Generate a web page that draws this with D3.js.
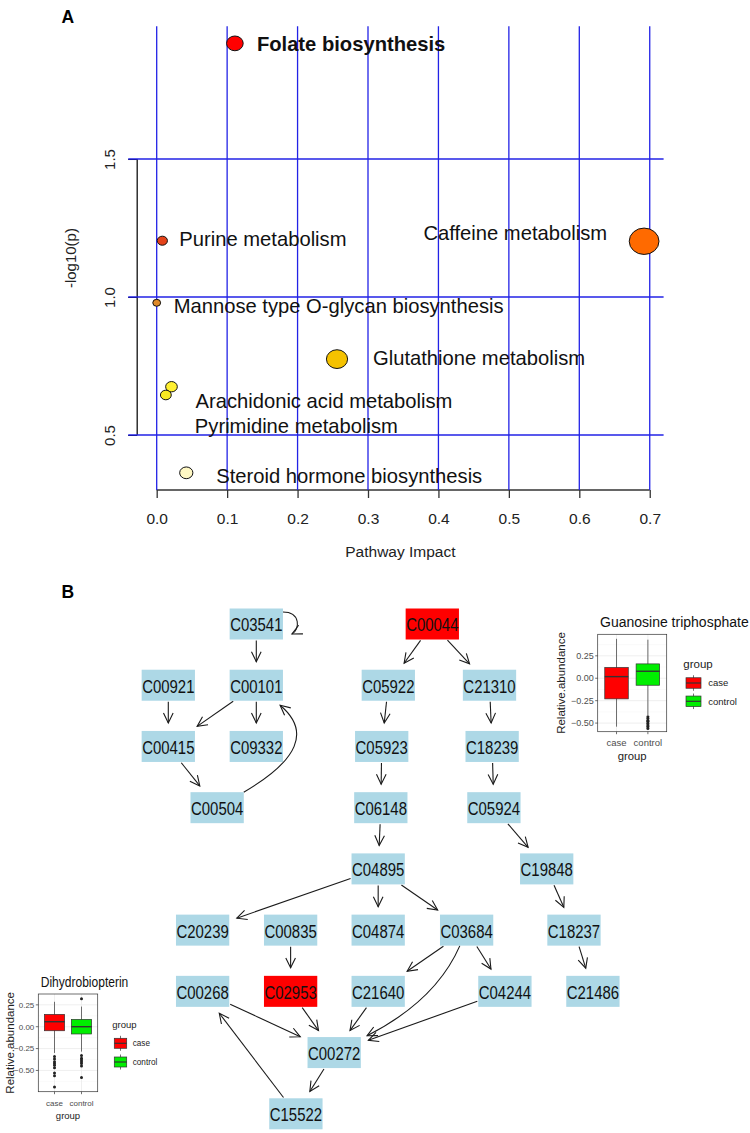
<!DOCTYPE html>
<html lang="en">
<head>
<meta charset="UTF-8">
<title>Pathway analysis</title>
<script src="https://d3js.org/d3.v7.min.js"></script>
<style>
  body { margin: 0; background: #fff; }
  svg { display: block; font-family: "Liberation Sans", Arial, sans-serif; }
</style>
</head>
<body>
<svg id="chart" width="750" height="1133"></svg>
<script>
// ---------- panel A: pathway impact vs -log10(p) ----------
const pathways = ["Folate biosynthesis", "Purine metabolism", "Caffeine metabolism",
  "Mannose type O-glycan biosynthesis", "Glutathione metabolism",
  "Arachidonic acid metabolism", "Pyrimidine metabolism", "Steroid hormone biosynthesis"];
const impact = [0.111, 0.008, 0.692, 0.0, 0.256, 0.021, 0.013, 0.042];
const logP = [1.919, 1.204, 1.202, 0.979, 0.775, 0.675, 0.645, 0.363];
const xTicks = [0, 0.1, 0.2, 0.3, 0.4, 0.5, 0.6, 0.7];
const yTicks = [0.5, 1.0, 1.5];

// ---------- panel B: compound network ----------
const compounds = ["C03541", "C00044",
  "C00921", "C00101", "C05922", "C21310",
  "C00415", "C09332", "C05923", "C18239",
  "C00504", "C06148", "C05924",
  "C04895", "C19848",
  "C20239", "C00835", "C04874", "C03684", "C18237",
  "C00268", "C02953", "C21640", "C04244", "C21486",
  "C00272", "C15522"];
// layer (row) and horizontal slot of each compound in the layout
const nodeRank = [0, 0, 1, 1, 1, 1, 2, 2, 2, 2, 3, 3, 3, 4, 4, 5, 5, 5, 5, 5, 6, 6, 6, 6, 6, 7, 8];
const nodeSlot = [2, 6, 0, 2, 5, 7.3, 0, 2, 4.85, 7.36, 1.11, 4.83, 7.4, 4.77, 8.6,
  0.78, 2.78, 4.77, 6.78, 9.22, 0.78, 2.78, 4.77, 7.65, 9.65, 3.77, 2.9];
const highlighted = ["C00044", "C02953"];
const edges = [
  ["C03541", "C03541"], ["C03541", "C00101"], ["C00921", "C00415"], ["C00101", "C00415"],
  ["C00101", "C09332"], ["C00415", "C00504"], ["C00504", "C00101"],
  ["C00044", "C05922"], ["C00044", "C21310"], ["C05922", "C05923"], ["C05923", "C06148"],
  ["C06148", "C04895"], ["C21310", "C18239"], ["C18239", "C05924"], ["C05924", "C19848"],
  ["C19848", "C18237"], ["C18237", "C21486"], ["C04895", "C20239"], ["C04895", "C04874"],
  ["C04895", "C03684"], ["C00835", "C02953"], ["C03684", "C21640"], ["C03684", "C04244"],
  ["C03684", "C00272"], ["C00268", "C00272"], ["C02953", "C00272"], ["C21640", "C00272"],
  ["C04244", "C00272"], ["C00272", "C15522"], ["C15522", "C00268"]];

// ---------- boxplot insets ----------
const groups = ["case", "control"];
const boxTicks = [-0.5, -0.25, 0, 0.25];
// [lower whisker, Q1, median, Q3, upper whisker]
const gtpStats = [[-0.54, -0.23, 0.018, 0.12, 0.44], [-0.41, -0.078, 0.078, 0.16, 0.43]];
const gtpOutliers = [[], [-0.43, -0.45, -0.47, -0.48, -0.50, -0.51, -0.53, -0.54, -0.56]];
const dhbStats = [[-0.30, -0.046, 0.057, 0.141, 0.285], [-0.285, -0.083, 0.0, 0.084, 0.23]];
const dhbOutliers = [[-0.34, -0.37, -0.40, -0.42, -0.44, -0.47, -0.53, -0.56, -0.69],
  [0.32, -0.33, -0.36, -0.38, -0.40, -0.42, -0.45, -0.58]];

// styles
const pointColors = ["#FF0000", "#E4421A", "#FF6A00", "#DF8A2A", "#F5C200", "#FFF030", "#F6E822", "#FFF8C4"];
const labelNudge = [[22, 7.5, "start"], [17, 5.5, "start"], [-37, -1, "end"], [17, 10, "start"],
  [36, 6, "start"], [24, 21.5, "start"], [29, 37.7, "start"], [30, 10.5, "start"]];
const groupColors = ["#FF0000", "#00EE00"];

const svg = d3.select("#chart");

// ================= A =================
const gA = svg.append("g");
gA.append("text").attr("x", 61.5).attr("y", 22.7)
  .attr("font-size", 17.5).attr("font-weight", "bold").text("A");

const xPad = (d3.max(impact) - d3.min(impact)) * 0.04;
const yPad = (d3.max(logP) - d3.min(logP)) * 0.04;
const x = d3.scaleLinear().domain([d3.min(impact) - xPad, d3.max(impact) + xPad]).range([137.2, 663.6]);
const y = d3.scaleLinear().domain([d3.min(logP) - yPad, d3.max(logP) + yPad]).range([490, 26.2]);
const r = d3.scaleSqrt().domain([0, 0.7]).range([3.7, 14.1]);

// x axis
const xAxis = gA.append("g").attr("transform", `translate(0,${y.range()[0]})`)
  .call(d3.axisBottom(x).tickValues(xTicks).tickSize(8).tickSizeOuter(0).tickFormat(d3.format(".1f")));
xAxis.select(".domain").remove();
xAxis.append("line").attr("x1", x(xTicks[0])).attr("x2", x(xTicks[xTicks.length - 1]))
  .attr("stroke", "#333").attr("stroke-width", 1.3);
xAxis.selectAll(".tick line").attr("stroke", "#333").attr("stroke-width", 1.3);
xAxis.selectAll("text").attr("y", 33.5).attr("dy", null)
  .attr("font-size", 15.5).attr("fill", "#222").attr("font-family", "Liberation Sans");

// y axis
const yAxis = gA.append("g").attr("transform", `translate(${x.range()[0]},0)`)
  .call(d3.axisLeft(y).tickValues(yTicks).tickSize(9).tickSizeOuter(0).tickFormat(d3.format(".1f")));
yAxis.select(".domain").remove();
yAxis.append("line").attr("y1", y(yTicks[0])).attr("y2", y(yTicks[yTicks.length - 1]))
  .attr("stroke", "#111").attr("stroke-width", 1.3);
yAxis.selectAll("text").attr("x", null).attr("dy", null)
  .attr("text-anchor", "middle").attr("transform", "translate(-22.5,0) rotate(-90)")
  .attr("font-size", 15).attr("fill", "#222").attr("font-family", "Liberation Sans");

gA.append("text").attr("x", (x.range()[0] + x.range()[1]) / 2).attr("y", 557.3)
  .attr("text-anchor", "middle").attr("font-size", 15.5).attr("fill", "#222").text("Pathway Impact");
gA.append("text").attr("transform", `translate(76,${(y.range()[0] + y.range()[1]) / 2}) rotate(-90)`)
  .attr("text-anchor", "middle").attr("font-size", 15).attr("fill", "#222").text("-log10(p)");

// blue grid
gA.append("g").selectAll("line").data(xTicks).join("line")
  .attr("x1", d => x(d)).attr("x2", d => x(d))
  .attr("y1", y.range()[1]).attr("y2", y.range()[0])
  .attr("stroke", "#2222E6").attr("stroke-width", 1.3);
gA.append("g").selectAll("line").data(yTicks).join("line")
  .attr("x1", x.range()[0] - 9).attr("x2", x.range()[1])
  .attr("y1", d => y(d)).attr("y2", d => y(d))
  .attr("stroke", "#2222E6").attr("stroke-width", 1.3);

// points
const pts = pathways.map((p, i) => ({ name: p, ix: impact[i], lp: logP[i], i }));
gA.append("g").selectAll("ellipse").data(pts).join("ellipse")
  .attr("cx", d => x(d.ix)).attr("cy", d => y(d.lp))
  .attr("rx", d => r(d.ix) * 1.06).attr("ry", d => r(d.ix) * 0.94)
  .attr("fill", d => pointColors[d.i]).attr("stroke", "#111").attr("stroke-width", 1);

gA.append("g").selectAll("text").data(pts).join("text")
  .attr("x", d => x(d.ix) + labelNudge[d.i][0])
  .attr("y", d => y(d.lp) + labelNudge[d.i][1])
  .attr("text-anchor", d => labelNudge[d.i][2])
  .attr("font-size", 20.2)
  .attr("font-weight", d => d.i === 0 ? "bold" : "normal")
  .attr("fill", "#111")
  .text(d => d.name);

// ================= B =================
const gB = svg.append("g");
gB.append("text").attr("x", 61.5).attr("y", 597.5)
  .attr("font-size", 17.5).attr("font-weight", "bold").text("B");

const xN = d3.scaleLinear().domain([0, 10]).range([168.3, 608.3]);
const yN = d3.scaleLinear().domain([0, 8]).range([624, 1113.8]);
const boxW = 53.3, boxH = 31;
const nodes = new Map(compounds.map((c, i) => [c, { id: c, cx: xN(nodeSlot[i]), cy: yN(nodeRank[i]) }]));

// curved edges: [bend perpendicular, shift along chord]
const curved = { "C00504>C00101": [84.6, 29.6], "C03684>C00272": [-31, -19.9] };

function clip(c, dir) {
  const tx = dir[0] ? (boxW / 2) / Math.abs(dir[0]) : Infinity;
  const ty = dir[1] ? (boxH / 2) / Math.abs(dir[1]) : Infinity;
  const t = Math.min(tx, ty);
  return [c[0] + dir[0] * t, c[1] + dir[1] * t];
}
function unit(v) { const l = Math.hypot(v[0], v[1]); return [v[0] / l, v[1] / l]; }
function arrowHead(tip, d) {
  const L = 11, a = 26 * Math.PI / 180;
  const rot = (v, t) => [v[0] * Math.cos(t) - v[1] * Math.sin(t), v[0] * Math.sin(t) + v[1] * Math.cos(t)];
  const p1 = rot(d, a), p2 = rot(d, -a);
  return `M${tip[0] - L * p1[0]},${tip[1] - L * p1[1]}L${tip[0]},${tip[1]}L${tip[0] - L * p2[0]},${tip[1] - L * p2[1]}`;
}

const edgeG = gB.append("g").attr("fill", "none").attr("stroke", "#1a1a1a").attr("stroke-width", 1.1);
edges.forEach(([s, t]) => {
  const S = nodes.get(s), T = nodes.get(t);
  const sc = [S.cx, S.cy], tc = [T.cx, T.cy];
  let path, tip, dir;
  if (s === t) {
    const rx = S.cx + boxW / 2;
    const p0 = [rx, S.cy - 12], c1 = [rx + 18, S.cy - 12], c2 = [rx + 17, S.cy + 6], p3 = [rx + 9, S.cy + 10];
    path = `M${p0}C${c1} ${c2} ${p3}`;
    tip = p3; dir = unit([p3[0] - c2[0], p3[1] - c2[1]]);
  } else if (curved[`${s}>${t}`]) {
    const [bend, skew] = curved[`${s}>${t}`];
    const u = unit([tc[0] - sc[0], tc[1] - sc[1]]);
    const p = [-u[1], u[0]];
    const mid = [(sc[0] + tc[0]) / 2, (sc[1] + tc[1]) / 2];
    const C = [mid[0] + p[0] * bend + u[0] * skew, mid[1] + p[1] * bend + u[1] * skew];
    const start = clip(sc, unit([C[0] - sc[0], C[1] - sc[1]]));
    const dEnd = unit([C[0] - tc[0], C[1] - tc[1]]);
    const e0 = clip(tc, dEnd);
    tip = [e0[0] + dEnd[0] * 7, e0[1] + dEnd[1] * 7];
    path = `M${start}Q${C} ${tip}`;
    dir = unit([tip[0] - C[0], tip[1] - C[1]]);
  } else {
    const u = unit([tc[0] - sc[0], tc[1] - sc[1]]);
    const s0 = clip(sc, u);
    const start = [s0[0] + u[0] * 1, s0[1] + u[1] * 1];
    const e0 = clip(tc, [-u[0], -u[1]]);
    tip = [e0[0] - u[0] * 8, e0[1] - u[1] * 8];
    path = `M${start}L${tip}`;
    dir = u;
  }
  edgeG.append("path").attr("d", path);
  edgeG.append("path").attr("d", arrowHead(tip, dir));
});

const nodeG = gB.append("g").selectAll("g").data([...nodes.values()]).join("g")
  .attr("transform", d => `translate(${d.cx},${d.cy})`);
nodeG.append("rect").attr("x", -boxW / 2).attr("y", -boxH / 2).attr("width", boxW).attr("height", boxH)
  .attr("fill", d => highlighted.includes(d.id) ? "#FF0000" : "#ADD8E6");
nodeG.append("text").attr("text-anchor", "middle").attr("y", 7.4)
  .attr("font-size", 18).attr("fill", "#111")
  .attr("textLength", boxW - 1).attr("lengthAdjust", "spacingAndGlyphs")
  .text(d => d.id);

// ================= boxplot insets =================
function inset(cfg) {
  const g = svg.append("g");
  const yb = d3.scaleLinear().domain(cfg.yDomain).range([cfg.y1, cfg.y0]);
  const xb = d3.scalePoint().domain(groups).range([cfg.x0, cfg.x1]).padding(0.6);
  const bw = xb.step() * 0.75;

  g.append("rect").attr("x", cfg.x0).attr("y", cfg.y0)
    .attr("width", cfg.x1 - cfg.x0).attr("height", cfg.y1 - cfg.y0).attr("fill", "#fff");
  // minor grid
  const minor = boxTicks.map(t => t + 0.125).concat([boxTicks[0] - 0.125])
    .filter(t => t > cfg.yDomain[0] && t < cfg.yDomain[1]);
  g.append("g").selectAll("line").data(minor).join("line")
    .attr("x1", cfg.x0).attr("x2", cfg.x1).attr("y1", d => yb(d)).attr("y2", d => yb(d))
    .attr("stroke", "#F4F4F4").attr("stroke-width", 0.5);
  g.append("g").selectAll("line").data(boxTicks).join("line")
    .attr("x1", cfg.x0).attr("x2", cfg.x1).attr("y1", d => yb(d)).attr("y2", d => yb(d))
    .attr("stroke", "#EBEBEB").attr("stroke-width", 0.8);
  g.append("g").selectAll("line").data(groups).join("line")
    .attr("x1", d => xb(d)).attr("x2", d => xb(d)).attr("y1", cfg.y0).attr("y2", cfg.y1)
    .attr("stroke", "#EBEBEB").attr("stroke-width", 0.8);

  groups.forEach((grp, i) => {
    const [lo, q1, med, q3, hi] = cfg.stats[i];
    const cx = xb(grp);
    g.append("line").attr("x1", cx).attr("x2", cx).attr("y1", yb(hi)).attr("y2", yb(lo))
      .attr("stroke", "#333").attr("stroke-width", 0.7);
    g.append("rect").attr("x", cx - bw / 2).attr("width", bw)
      .attr("y", yb(q3)).attr("height", yb(q1) - yb(q3))
      .attr("fill", groupColors[i]).attr("stroke", "#333").attr("stroke-width", 0.7);
    g.append("line").attr("x1", cx - bw / 2).attr("x2", cx + bw / 2).attr("y1", yb(med)).attr("y2", yb(med))
      .attr("stroke", "#333").attr("stroke-width", 1.4);
    g.append("g").selectAll("circle").data(cfg.outliers[i]).join("circle")
      .attr("cx", cx).attr("cy", d => yb(d)).attr("r", 1.5).attr("fill", "#222");
  });

  g.append("rect").attr("x", cfg.x0).attr("y", cfg.y0)
    .attr("width", cfg.x1 - cfg.x0).attr("height", cfg.y1 - cfg.y0)
    .attr("fill", "none").attr("stroke", "#333").attr("stroke-width", 0.7);

  // ticks and labels
  g.append("g").selectAll("line").data(boxTicks).join("line")
    .attr("x1", cfg.x0 - 2.5).attr("x2", cfg.x0).attr("y1", d => yb(d)).attr("y2", d => yb(d))
    .attr("stroke", "#333").attr("stroke-width", 0.7);
  g.append("g").selectAll("text").data(boxTicks).join("text")
    .attr("x", cfg.x0 - 4).attr("y", d => yb(d)).attr("dy", "0.35em")
    .attr("text-anchor", "end").attr("font-size", cfg.tickSize).attr("fill", "#4D4D4D")
    .text(d => d3.format(".2f")(d));
  g.append("g").selectAll("line").data(groups).join("line")
    .attr("x1", d => xb(d)).attr("x2", d => xb(d)).attr("y1", cfg.y1).attr("y2", cfg.y1 + 2.5)
    .attr("stroke", "#333").attr("stroke-width", 0.7);
  g.append("g").selectAll("text").data(groups).join("text")
    .attr("x", d => xb(d)).attr("y", cfg.xTickY)
    .attr("text-anchor", "middle").attr("font-size", cfg.xTickSize).attr("fill", "#4D4D4D")
    .text(d => d);

  g.append("text").attr("x", (cfg.x0 + cfg.x1) / 2).attr("y", cfg.xTitleY)
    .attr("text-anchor", "middle").attr("font-size", cfg.xTitleSize).attr("fill", "#222").text("group");
  g.append("text").attr("transform", `translate(${cfg.yTitleX},${(cfg.y0 + cfg.y1) / 2}) rotate(-90)`)
    .attr("text-anchor", "middle").attr("font-size", 11.5).attr("fill", "#222").text("Relative.abundance");
  const title = g.append("text").attr("x", cfg.titleX).attr("y", cfg.titleY)
    .attr("font-size", 14).attr("fill", "#111").text(cfg.title);
  if (cfg.titleLen) title.attr("textLength", cfg.titleLen).attr("lengthAdjust", "spacingAndGlyphs");

  // legend
  g.append("text").attr("x", cfg.legX).attr("y", cfg.legTitleY)
    .attr("font-size", cfg.legTitleSize).attr("fill", "#222").text("group");
  groups.forEach((grp, i) => {
    const ky = cfg.keyY[i];
    g.append("line").attr("x1", cfg.keyX).attr("x2", cfg.keyX)
      .attr("y1", ky - cfg.keyH / 2 - 2.5).attr("y2", ky + cfg.keyH / 2 + 2.5)
      .attr("stroke", "#333").attr("stroke-width", 0.7);
    g.append("rect").attr("x", cfg.keyX - cfg.keyW / 2).attr("y", ky - cfg.keyH / 2)
      .attr("width", cfg.keyW).attr("height", cfg.keyH)
      .attr("fill", groupColors[i]).attr("stroke", "#333").attr("stroke-width", 0.7);
    g.append("line").attr("x1", cfg.keyX - cfg.keyW / 2).attr("x2", cfg.keyX + cfg.keyW / 2)
      .attr("y1", ky).attr("y2", ky).attr("stroke", "#333").attr("stroke-width", 1.2);
    g.append("text").attr("x", cfg.legLabelX).attr("y", ky).attr("dy", "0.35em")
      .attr("font-size", cfg.legLabelSize).attr("fill", "#222").text(grp);
  });
}

inset({
  title: "Guanosine triphosphate", stats: gtpStats, outliers: gtpOutliers,
  x0: 597.7, x1: 666.7, y0: 634.3, y1: 731.7, yDomain: [-0.596, 0.49],
  tickSize: 9, xTickY: 745.5, xTickSize: 9.5, xTitleY: 760, xTitleSize: 11.3, yTitleX: 565,
  titleX: 600, titleY: 626.7,
  legX: 683.3, legTitleY: 668.3, legTitleSize: 11.5,
  keyX: 693.5, keyY: [683, 701.3], keyW: 15, keyH: 10.5, legLabelX: 708.3, legLabelSize: 9.5
});
inset({
  title: "Dihydrobiopterin", stats: dhbStats, outliers: dhbOutliers,
  x0: 38.3, x1: 97.7, y0: 994, y1: 1091.7, yDomain: [-0.743, 0.374],
  tickSize: 8, xTickY: 1106.3, xTickSize: 8, xTitleY: 1119.3, xTitleSize: 9.5, yTitleX: 14,
  titleX: 40.7, titleY: 986.7, titleLen: 87.6,
  legX: 112.3, legTitleY: 1028.3, legTitleSize: 9.5,
  keyX: 120.5, keyY: [1043.3, 1062], keyW: 12.4, keyH: 10, legLabelX: 132.7, legLabelSize: 8.2
});
</script>
</body>
</html>
